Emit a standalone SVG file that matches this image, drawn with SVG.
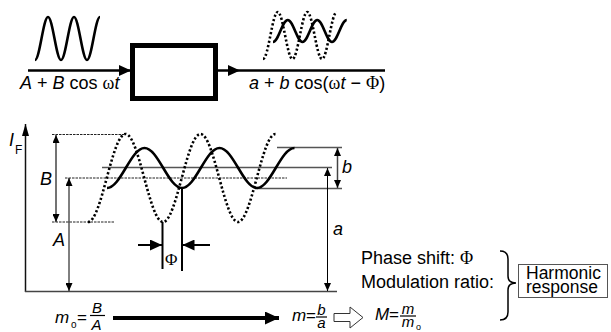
<svg xmlns="http://www.w3.org/2000/svg" width="611" height="332" viewBox="0 0 611 332">
<defs>
<style>
text{font-family:"Liberation Sans",Arial,sans-serif;fill:#000;font-size:18px}
.i{font-style:italic}
.s{font-family:"Liberation Serif","Times New Roman",serif;font-style:normal}
.wave{fill:none;stroke:#000;stroke-width:2.6}
.dot{fill:none;stroke:#000;stroke-width:2.6;stroke-dasharray:2.2 2.2}
.ref{fill:none;stroke:#222;stroke-width:1;stroke-dasharray:2.5 1}
.gl{fill:none;stroke:#555;stroke-width:1.5}
.ln{fill:none;stroke:#000}
</style>
<marker id="sm" viewBox="0 0 8 7" refX="8" refY="3.5" markerWidth="8" markerHeight="7" markerUnits="userSpaceOnUse" orient="auto-start-reverse"><path d="M0,0 L8,3.5 L0,7 z"/></marker>
<marker id="ax" viewBox="0 0 12 7" refX="12" refY="3.5" markerWidth="12" markerHeight="7" markerUnits="userSpaceOnUse" orient="auto-start-reverse"><path d="M0,0 L12,3.5 L0,7 z"/></marker>
<marker id="md" viewBox="0 0 12 11" refX="12" refY="5.5" markerWidth="12" markerHeight="11" markerUnits="userSpaceOnUse" orient="auto-start-reverse"><path d="M0,0 L12,5.5 L0,11 z"/></marker>
<marker id="bg" viewBox="0 0 14 13" refX="14" refY="6.5" markerWidth="14" markerHeight="13" markerUnits="userSpaceOnUse" orient="auto-start-reverse"><path d="M0,0 L14,6.5 L0,13 z"/></marker>
</defs>

<g id="input-signal">
<path class="wave" d="M35,60 C39.72,60 43.28,17 48,17 S56.28,60 61,60 S69.28,17 74,17 S82.28,60 87,60 S95.28,17 100,17"/>
<text x="20" y="89"><tspan class="i">A</tspan> + <tspan class="i">B</tspan> cos <tspan class="s">ω</tspan><tspan class="i">t</tspan></text>
</g>

<g id="system-box">
<rect x="132.5" y="45.5" width="83" height="53" fill="none" stroke="#000" stroke-width="5"/>
</g>

<g id="output-signal">
<path class="dot" d="M263,59 C268.36,59 272.39,12 277.75,12 S287.14,59 292.5,59 S301.89,12 307.25,12 S316.64,59 322,59 S331.39,12 336.75,12"/>
<path class="wave" d="M273,42 C278.36,42 282.39,20 287.75,20 S297.14,42 302.5,42 S311.89,20 317.25,20 S326.64,42 332,42 S341.39,20 346.75,20"/>
<text x="249" y="89"><tspan class="i">a</tspan> + <tspan class="i">b</tspan> cos(<tspan class="s">ω</tspan><tspan class="i">t</tspan> − <tspan class="s">Φ</tspan>)</text>
</g>

<g id="connectors">
<line class="ln" x1="28" y1="70.5" x2="131" y2="70.5" stroke-width="2.5" marker-end="url(#md)"/>
<line class="ln" x1="218" y1="70.5" x2="385" y2="70.5" stroke-width="2.5"/>
<polygon points="228,65 240,70.5 228,76" fill="#000"/>
<line class="ln" x1="113" y1="318" x2="279" y2="318" stroke-width="4" marker-end="url(#bg)"/>
<polygon points="334,313.5 350,313.5 350,307 363,317.5 350,328 350,321.5 334,321.5" fill="#fff" stroke="#333" stroke-width="1"/>
</g>

<g id="graph">
<line x1="25.5" y1="292" x2="25.5" y2="124" stroke="#111" stroke-width="1.5" marker-end="url(#ax)"/>
<line x1="25" y1="291.5" x2="337" y2="291.5" stroke="#444" stroke-width="1.5"/>
<text x="9" y="146" class="i">I</text>
<text x="15" y="154" style="font-size:12px">F</text>
<line class="ref" x1="52" y1="134.5" x2="125" y2="134.5"/>
<line class="ref" x1="52" y1="222" x2="115" y2="222"/>
<line class="ref" x1="65" y1="178" x2="287" y2="178"/>
<line class="gl" x1="102" y1="167.5" x2="332" y2="167.5"/>
<line class="gl" x1="277" y1="147.5" x2="342" y2="147.5"/>
<line class="gl" x1="257" y1="188.5" x2="342" y2="188.5"/>
<path class="dot" d="M88,222 C101.63,222 111.87,134 125.5,134 S149.37,222 163,222 S186.87,134 200.5,134 S224.37,222 238,222 S261.87,134 275.5,134"/>
<path class="wave" d="M107,188 C120.63,188 130.87,148 144.5,148 S168.37,188 182,188 S205.87,148 219.5,148 S243.37,188 257,188 S280.87,148 294.5,148"/>
<line x1="56" y1="135" x2="56" y2="222" stroke="#444" stroke-width="1.5" marker-start="url(#sm)" marker-end="url(#sm)"/>
<text x="40" y="185" class="i">B</text>
<line x1="69" y1="178" x2="69" y2="291" stroke="#000" stroke-width="1" marker-start="url(#sm)" marker-end="url(#sm)"/>
<text x="53" y="246" class="i">A</text>
<line x1="327.5" y1="168" x2="327.5" y2="291" stroke="#000" stroke-width="1" marker-start="url(#sm)" marker-end="url(#sm)"/>
<text x="333" y="235" class="i">a</text>
<line x1="337.5" y1="148" x2="337.5" y2="188" stroke="#444" stroke-width="1.5" marker-start="url(#sm)" marker-end="url(#sm)"/>
<text x="342" y="173" class="i">b</text>
<line class="ln" x1="162.5" y1="222" x2="162.5" y2="269" stroke-width="2"/>
<line class="ln" x1="182" y1="188" x2="182" y2="271" stroke-width="2"/>
<line class="ln" x1="138" y1="245" x2="162" y2="245" stroke-width="2" marker-end="url(#md)"/>
<line class="ln" x1="210" y1="245" x2="182.5" y2="245" stroke-width="2" marker-end="url(#md)"/>
<text x="165" y="265" class="s" style="font-size:17px">Φ</text>
</g>

<g id="formula-m0">
<text x="55" y="323" class="i" style="font-size:17px">m</text>
<text x="71" y="328" style="font-size:10px">o</text>
<text x="77" y="323" style="font-size:17px">=</text>
<line x1="90" y1="315.5" x2="105" y2="315.5" stroke="#000" stroke-width="1.2"/>
<text x="97" y="313" class="i" text-anchor="middle" style="font-size:15px">B</text>
<text x="96.5" y="330" class="i" text-anchor="middle" style="font-size:15px">A</text>
</g>

<g id="formula-m">
<text x="292" y="321" class="i" style="font-size:17px">m</text>
<text x="306" y="321" style="font-size:17px">=</text>
<line x1="316" y1="317" x2="327" y2="317" stroke="#000" stroke-width="1.2"/>
<text x="321.5" y="314.5" class="i" text-anchor="middle" style="font-size:15px">b</text>
<text x="321.5" y="327.5" class="i" text-anchor="middle" style="font-size:15px">a</text>
</g>

<g id="formula-M">
<text x="375" y="320" class="i" style="font-size:17px">M</text>
<text x="389" y="320" style="font-size:17px">=</text>
<line x1="400" y1="316" x2="416" y2="316" stroke="#000" stroke-width="1.2"/>
<text x="408" y="313.5" class="i" text-anchor="middle" style="font-size:15px">m</text>
<text x="408" y="326.5" class="i" text-anchor="middle" style="font-size:15px">m</text>
<text x="416" y="330" style="font-size:9px">o</text>
</g>

<g id="response-labels">
<text x="361" y="264">Phase shift: <tspan class="s">Φ</tspan></text>
<text x="361" y="288">Modulation ratio:</text>
<path d="M500,251 Q508,251 508,259 L508,276 Q508,283 516,283 Q508,283 508,290 L508,312 Q508,320 500,320" fill="none" stroke="#000" stroke-width="1.5"/>
</g>

<g id="harmonic-response">
<rect x="518.5" y="264.5" width="89" height="33" fill="none" stroke="#555" stroke-width="1"/>
<text x="526" y="279" style="font-size:17.5px">Harmonic</text>
<text x="526" y="293" style="font-size:17.5px">response</text>
</g>
</svg>
